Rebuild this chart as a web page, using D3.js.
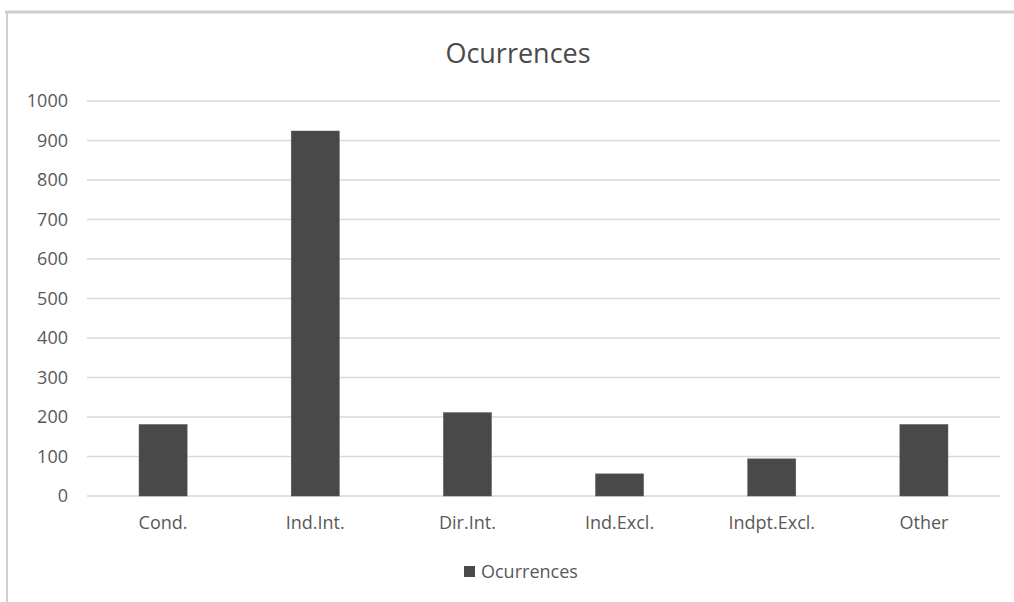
<!DOCTYPE html>
<html>
<head>
<meta charset="utf-8">
<script src="https://cdn.jsdelivr.net/npm/d3@7"></script>
<style>
  html, body { margin: 0; padding: 0; background: #fff; }
  svg text { font-family: "Open Sans", "Noto Sans", sans-serif; fill: #595959; }
</style>
</head>
<body>
<svg id="chart" width="1014" height="602"></svg>
<script>
const categories = ["Cond.", "Ind.Int.", "Dir.Int.", "Ind.Excl.", "Indpt.Excl.", "Other"];
const values = [181, 924, 211, 56, 94, 181];
const yTicks = [0, 100, 200, 300, 400, 500, 600, 700, 800, 900, 1000];
const seriesName = "Ocurrences";
const chartTitle = "Ocurrences";

const svg = d3.select("#chart");

// outer frame
svg.append("line").attr("x1", 5).attr("x2", 1014).attr("y1", 12).attr("y2", 12)
  .attr("stroke", "#cfcfcf").attr("stroke-width", 3);
svg.append("line").attr("x1", 7).attr("x2", 7).attr("y1", 12).attr("y2", 602)
  .attr("stroke", "#cfcfcf").attr("stroke-width", 2);

const plot = { left: 87, right: 1000, top: 101, bottom: 496 };

const x = d3.scaleBand().domain(categories).range([plot.left, plot.right])
  .paddingInner(0.684).paddingOuter(0.342);
const y = d3.scaleLinear().domain([0, 1000]).range([plot.bottom, plot.top]);

// gridlines
svg.append("g").selectAll("line").data(yTicks).join("line")
  .attr("x1", plot.left).attr("x2", plot.right)
  .attr("y1", d => y(d)).attr("y2", d => y(d))
  .attr("stroke", "#d9d9d9").attr("stroke-width", 1.5);

// y axis labels
const yAxis = svg.append("g").attr("transform", `translate(${plot.left},0)`)
  .call(d3.axisLeft(y).tickValues(yTicks).tickFormat(d3.format("d")).tickSize(0).tickPadding(19));
yAxis.select(".domain").remove();
yAxis.selectAll("text").attr("font-size", 18).attr("fill", "#595959")
  .style("font-family", '"Open Sans", "Noto Sans", sans-serif');

// bars
svg.append("g").selectAll("rect").data(values).join("rect")
  .attr("x", (d, i) => x(categories[i]))
  .attr("width", x.bandwidth())
  .attr("y", d => y(d))
  .attr("height", d => y(0) - y(d))
  .attr("fill", "#494949")
  .attr("stroke", "#555").attr("stroke-width", 0.5);

// x axis labels
const xAxis = svg.append("g").attr("transform", `translate(0,${plot.bottom})`)
  .call(d3.axisBottom(x).tickSize(0).tickPadding(20));
xAxis.select(".domain").remove();
xAxis.selectAll("text").attr("font-size", 18).attr("fill", "#595959")
  .style("font-family", '"Open Sans", "Noto Sans", sans-serif');

// title
svg.append("text").attr("x", 518).attr("y", 63).attr("text-anchor", "middle")
  .attr("font-size", 27).attr("fill", "#4a4a4a").style("fill", "#4a4a4a").text(chartTitle);

// legend
const lg = svg.append("g").attr("transform", "translate(464,566)");
lg.append("rect").attr("width", 11).attr("height", 11).attr("fill", "#494949");
lg.append("text").attr("x", 17).attr("y", 12).attr("font-size", 18).text(seriesName);
</script>
</body>
</html>
